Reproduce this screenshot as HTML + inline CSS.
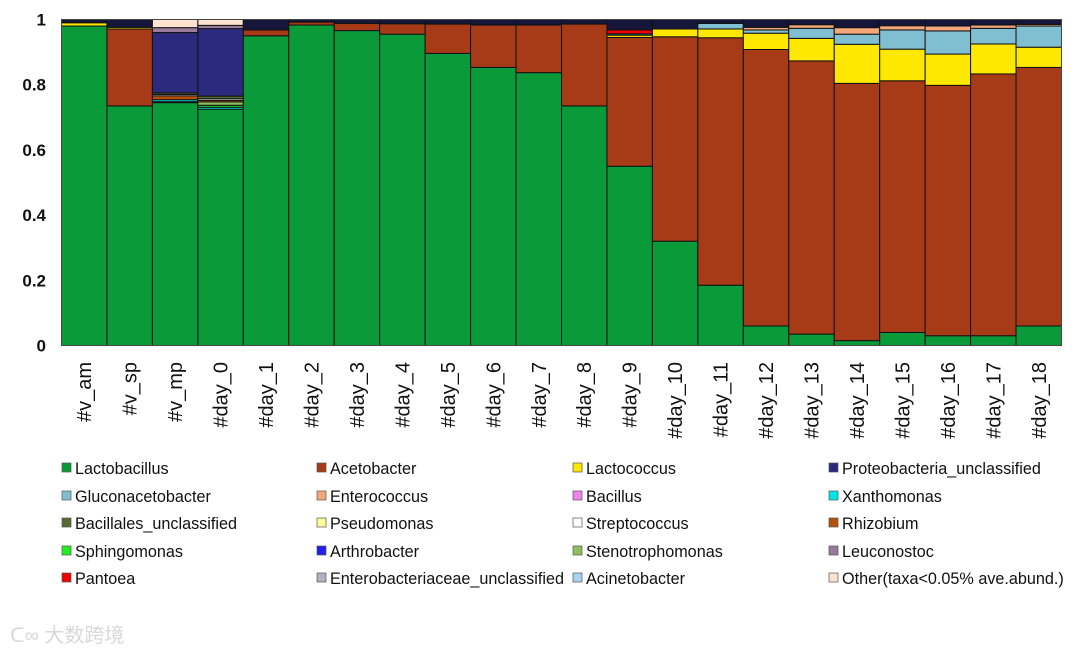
<!DOCTYPE html>
<html><head><meta charset="utf-8"><style>
html,body{margin:0;padding:0;background:#fff;}
body{width:1080px;height:654px;overflow:hidden;position:relative;font-family:"Liberation Sans",Arial,sans-serif;}
svg{position:absolute;left:0;top:0;}
</style></head><body>
<svg id="chart" width="1080" height="654" xmlns="http://www.w3.org/2000/svg"></svg>
<script>
const categories=["#v_am","#v_sp","#v_mp","#day_0","#day_1","#day_2","#day_3","#day_4","#day_5","#day_6","#day_7","#day_8","#day_9","#day_10","#day_11","#day_12","#day_13","#day_14","#day_15","#day_16","#day_17","#day_18"];
const yTicks=[0,0.2,0.4,0.6,0.8,1];
const yTickLabels=["0","0.2","0.4","0.6","0.8","1"];
const seriesNames=["Lactobacillus","Acetobacter","Lactococcus","Proteobacteria_unclassified","Gluconacetobacter","Enterococcus","Bacillus","Xanthomonas","Bacillales_unclassified","Pseudomonas","Streptococcus","Rhizobium","Sphingomonas","Arthrobacter","Stenotrophomonas","Leuconostoc","Pantoea","Enterobacteriaceae_unclassified","Acinetobacter","Other(taxa<0.05% ave.abund.)"];
const seriesColors=["#0a9a3a","#a83b17","#ffe800","#2b2a7e","#80bfd2","#f4a87a","#ee82ee","#00e5e5","#556b2f","#ffff99","#ffffff","#b5500c","#22ee22","#2020ee","#90bf60","#9a7a9a","#ee0000","#b0b0c0","#a8d4ee","#fbe3d0"];
const lactobacillus=[0.98,0.735,0.745,0.725,0.95,0.983,0.966,0.955,0.896,0.853,0.837,0.735,0.55,0.32,0.185,0.06,0.035,0.015,0.04,0.03,0.03,0.06];
const acetobacter=[0,0.236,0,0,0.018,0.009,0.022,0.032,0.09,0.13,0.146,0.251,0.395,0.627,0.759,0.848,0.838,0.789,0.772,0.768,0.803,0.793];
const lactococcus=[0.01,0.005,0.003,0,0,0,0,0,0,0,0,0,0.007,0.024,0.027,0.05,0.069,0.12,0.097,0.096,0.092,0.062];
const proteobacteria=[0.01,0.024,0.185,0.207,0.032,0.008,0.012,0.013,0.014,0.017,0.017,0.014,0.032,0.029,0.012,0.024,0.016,0.025,0.019,0.02,0.017,0.015];
const gluconacetobacter=[0,0,0,0,0,0,0,0,0,0,0,0,0,0,0.017,0.01,0.031,0.031,0.059,0.071,0.048,0.065];
const enterococcus=[0,0,0,0,0,0,0,0,0,0,0,0,0,0,0,0.008,0.011,0.02,0.013,0.015,0.01,0.005];
const bacillus=[0,0,0,0,0,0,0,0,0,0,0,0,0,0,0,0,0,0,0,0,0,0];
const xanthomonas=[0,0,0.006,0.006,0,0,0,0,0,0,0,0,0.004,0,0,0,0,0,0,0,0,0];
const bacillales=[0,0,0.005,0.008,0,0,0,0,0,0,0,0,0,0,0,0,0,0,0,0,0,0];
const pseudomonas=[0,0,0,0,0,0,0,0,0,0,0,0,0,0,0,0,0,0,0,0,0,0];
const streptococcus=[0,0,0.004,0.005,0,0,0,0,0,0,0,0,0,0,0,0,0,0,0,0,0,0];
const rhizobium=[0,0,0.012,0.005,0,0,0,0,0,0,0,0,0,0,0,0,0,0,0,0,0,0];
const sphingomonas=[0,0,0,0.006,0,0,0,0,0,0,0,0,0,0,0,0,0,0,0,0,0,0];
const arthrobacter=[0,0,0,0,0,0,0,0,0,0,0,0,0,0,0,0,0,0,0,0,0,0];
const stenotrophomonas=[0,0,0,0.01,0,0,0,0,0,0,0,0,0,0,0,0,0,0,0,0,0,0];
const leuconostoc=[0,0,0.015,0.01,0,0,0,0,0,0,0,0,0,0,0,0,0,0,0,0,0,0];
const pantoea=[0,0,0,0,0,0,0,0,0,0,0,0,0.012,0,0,0,0,0,0,0,0,0];
const enterobacteriaceae=[0,0,0,0,0,0,0,0,0,0,0,0,0,0,0,0,0,0,0,0,0,0];
const acinetobacter=[0,0,0,0,0,0,0,0,0,0,0,0,0,0,0,0,0,0,0,0,0,0];
const other=[0,0,0.025,0.018,0,0,0,0,0,0,0,0,0,0,0,0,0,0,0,0,0,0];
const seriesValues=[lactobacillus,acetobacter,lactococcus,proteobacteria,gluconacetobacter,enterococcus,bacillus,xanthomonas,bacillales,pseudomonas,streptococcus,rhizobium,sphingomonas,arthrobacter,stenotrophomonas,leuconostoc,pantoea,enterobacteriaceae,acinetobacter,other];
const drawOrder=[0,1,2,7,12,14,11,10,8,4,5,16,3,15,6,9,13,17,18,19];

const NS="http://www.w3.org/2000/svg";
const svg=document.getElementById('chart');
const L=61.5,R=1061.5,T=19.5,B=345.5;
const bw=(R-L)/categories.length;
function xPos(i){return L+i*bw;}
function yPos(v){return B-v*(B-T);}
function mk(tag,attrs,parent){const e=document.createElementNS(NS,tag);for(const k in attrs)e.setAttribute(k,attrs[k]);(parent||svg).appendChild(e);return e;}

const bars=mk('g',{});


categories.forEach((c,i)=>{
  let cum=0;
  drawOrder.forEach(s=>{
    const v=seriesValues[s][i];
    if(!v)return;
    const isCap=(s===3 && i!==2 && i!==3);
    const r=mk('rect',{x:xPos(i),y:yPos(cum+v),width:bw,height:yPos(cum)-yPos(cum+v),fill:isCap?'#16163a':seriesColors[s],stroke:'#111','stroke-width':1},bars);
    
    
    cum+=v;
  });
});
const frame=mk('rect',{x:L,y:T,width:R-L,height:B-T,fill:'none',stroke:'#555','stroke-width':0.8});



yTicks.forEach((t,k)=>{
  const tx=mk('text',{x:46,y:yPos(t)+6,'text-anchor':'end','font-size':17,'font-weight':'bold',fill:'#111'});
  tx.textContent=yTickLabels[k];
  
  
});
categories.forEach((c,i)=>{
  const cx=xPos(i)+bw/2+7;
  const tx=mk('text',{x:cx,y:362,'text-anchor':'end','font-size':20,fill:'#111',transform:`rotate(-90 ${cx} 362)`});
  tx.textContent=c;
  
  
});

const legCols=[62,317,573,829];
const legRows=[468,496,523,551,578];
const lg=mk('g',{});


seriesNames.forEach((n,s)=>{
  const cx=legCols[s%4],cy=legRows[Math.floor(s/4)];
  const g=mk('g',{},lg);
  
  
  mk('rect',{x:cx,y:cy-5,width:9,height:9,fill:seriesColors[s],stroke:'#555','stroke-width':0.7},g);
  const t=mk('text',{x:cx+13,y:cy+6,'font-size':16.2,fill:'#111'},g);
  t.textContent=n;
});
const wm=mk('text',{x:10,y:642,'font-size':20,fill:'#d8d8d8','font-family':'"Liberation Sans","Noto Sans CJK SC",sans-serif'});
wm.textContent='ᑕ∞ 大数跨境';


</script>
</body></html>
